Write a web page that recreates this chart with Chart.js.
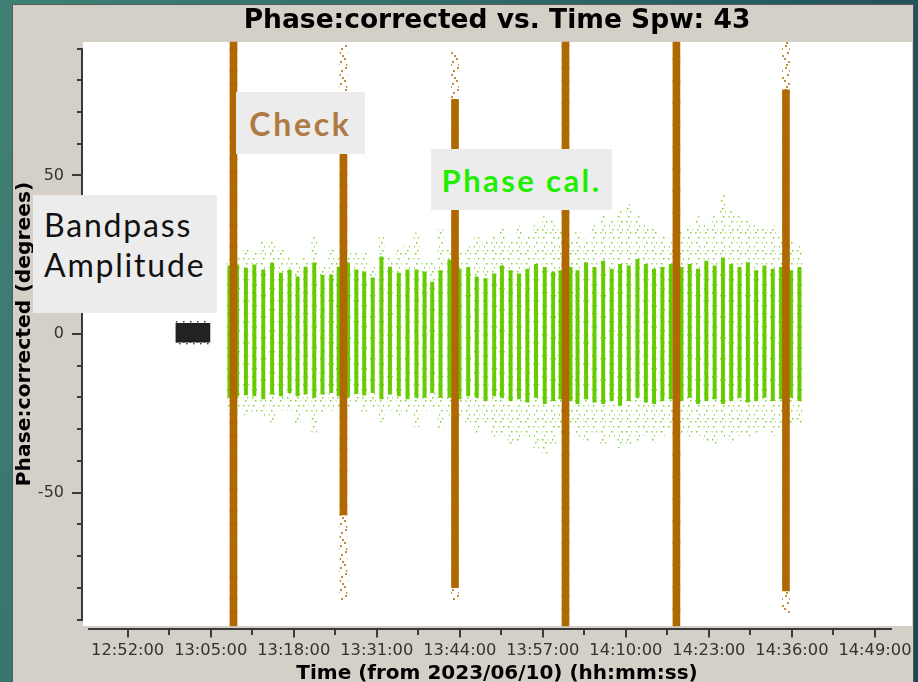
<!DOCTYPE html>
<html>
<head>
<meta charset="utf-8">
<title>Phase:corrected vs. Time Spw: 43</title>
<script src="https://cdn.jsdelivr.net/npm/chart.js@4.4.1/dist/chart.umd.min.js"></script>
<style>
  html, body { margin: 0; padding: 0; }
  body {
    width: 918px; height: 682px; overflow: hidden; position: relative;
    background: linear-gradient(110deg, #408175 0%, #2f6d6a 40%, #1a4553 100%);
  }
  #panel {
    position: absolute; left: 12px; top: 4px; width: 900px; height: 678px;
    background: #d4d0c8; border: 1px solid #55595a; border-bottom: none;
  }
  #plot { position: absolute; left: 0; top: 0; }
  .note { position: absolute; background: #ececec; box-sizing: border-box; white-space: nowrap; }
  #noteCheck {
    left: 236px; top: 92px; width: 129px; height: 62px;
    display: flex; align-items: center; justify-content: center;
    color: #b07a44; font: 700 32px Lato, "DejaVu Sans", sans-serif; letter-spacing: 2.7px;
  }
  #notePhase {
    left: 431px; top: 149px; width: 181px; height: 61px;
    display: flex; align-items: center; justify-content: center;
    color: #1fee00; font: 700 31px Lato, "DejaVu Sans", sans-serif; letter-spacing: 2.4px;
  }
  #noteBandpass {
    left: 33px; top: 195px; width: 184px; height: 118px;
    padding: 10px 0 0 11px;
    color: #111; font: 400 32px Lato, "DejaVu Sans", sans-serif; letter-spacing: 1.8px; line-height: 40px;
  }
</style>
</head>
<body>
<div id="panel"></div>
<canvas id="plot" width="918" height="682"></canvas>
<div class="note" id="noteCheck">Check</div>
<div class="note" id="notePhase">Phase cal.</div>
<div class="note" id="noteBandpass">Bandpass<br>Amplitude</div>

<script>
// ---------- axis setup ----------
const timeRange   = ['12:44:51', '14:54:48'];
const phaseRange  = [-90, 90];
const xTickLabels = ['12:52:00', '13:05:00', '13:18:00', '13:31:00', '13:44:00',
                     '13:57:00', '14:10:00', '14:23:00', '14:36:00', '14:49:00'];
const xMinorTicks = ['12:58:30', '13:11:30', '13:24:30', '13:37:30', '13:50:30',
                     '14:03:30', '14:16:30', '14:29:30', '14:42:30'];

// ---------- bandpass scan (one long scan near zero phase) ----------
const bandpassTimes  = ['13:02:13'];
const bandpassCoreLo = [-2.6];
const bandpassCoreHi = [3.4];
const bandpassTailLo = [-3.3];
const bandpassTailHi = [4.0];

// ---------- check source scans ----------
const checkTimes  = ['13:08:34', '13:25:47', '13:43:15', '14:00:33', '14:17:55', '14:35:04'];
const checkCoreLo = [-92, -57, -80, -92, -92, -81];
const checkCoreHi = [ 92,  62,  74,  92,  92,  77];
const checkTailLo = [-92, -84, -84, -92, -92, -88];
const checkTailHi = [ 92,  91,  89,  92,  92,  92];

// ---------- phase calibrator scans ----------
const phaseTimes = [
  '13:07:56',
  '13:09:07','13:10:31','13:11:50','13:13:14','13:14:37','13:16:00','13:17:21','13:18:36','13:19:51','13:21:13','13:22:30','13:23:52','13:25:02',
  '13:26:30','13:27:48','13:29:02','13:30:22','13:31:44','13:33:04','13:34:27','13:35:49','13:37:13','13:38:29','13:39:41','13:40:59','13:42:23',
  '13:43:57','13:45:19','13:46:39','13:48:02','13:49:23','13:50:36','13:51:57','13:53:16','13:54:35','13:55:56','13:57:18','13:58:37','13:59:47',
  '14:01:20','14:02:26','14:03:46','14:05:05','14:06:27','14:07:47','14:09:06','14:10:27','14:11:49','14:13:08','14:14:25','14:15:43','14:17:02',
  '14:18:42','14:20:00','14:21:18','14:22:36','14:23:54','14:25:12','14:26:30','14:27:48','14:29:06','14:30:24','14:31:42','14:33:00','14:34:18',
  '14:35:51','14:37:11'
];
const phaseCoreHi = [
  21.5,
  21.8, 20.8, 21.8, 20.2, 22.4, 19.2, 20.2, 18.0, 21.1, 22.4, 18.5, 18.6, 21.1,
  22.4, 20.2, 19.6, 17.7, 24.3, 21.1, 19.2, 20.2, 20.2, 19.6, 16.4, 20.0, 23.3,
  20.5, 21.0, 18.0, 17.5, 19.0, 21.5, 20.0, 19.0, 20.5, 22.0, 21.0, 19.5, 20.0,
  21.0, 20.0, 22.5, 21.0, 23.0, 20.5, 22.0, 21.5, 23.5, 22.0, 20.5, 21.0, 22.0,
  21.0, 22.0, 20.5, 23.0, 21.5, 24.0, 22.0, 21.0, 22.5, 20.0, 21.5, 20.5, 21.0,
  20.0, 21.0
];
const phaseCoreLo = [
  -20.0,
  -19.6, -19.2, -19.5, -20.5, -19.0, -19.5, -18.5, -19.5, -19.0, -20.0, -19.0, -18.5, -19.5,
  -19.8, -18.8, -19.3, -18.5, -20.5, -19.0, -19.5, -20.5, -20.0, -20.0, -18.5, -20.0, -20.0,
  -20.5, -19.5, -20.0, -21.0, -19.5, -20.0, -21.0, -20.5, -21.5, -20.0, -22.0, -21.0, -20.5,
  -21.0, -22.0, -20.5, -21.5, -22.0, -21.0, -22.5, -21.0, -20.0, -21.5, -22.0, -21.0, -20.5,
  -21.0, -20.0, -22.0, -21.0, -20.5, -22.0, -21.0, -20.0, -21.5, -21.0, -20.0, -21.0, -20.5,
  -20.0, -21.0
];
const phaseTailHi = [
  23.0,
  24.0, 26.5, 26.0, 29.7, 29.7, 27.1, 24.0, 22.8, 24.4, 31.5, 21.5, 26.5, 25.0,
  25.5, 25.6, 25.6, 21.2, 31.2, 24.0, 26.5, 28.0, 31.9, 23.0, 23.3, 32.8, 26.5,
  26.0, 27.5, 31.0, 29.0, 30.5, 33.0, 29.0, 34.0, 31.0, 35.0, 37.0, 36.0, 33.0,
  30.0, 32.0, 30.0, 35.0, 38.0, 36.0, 39.0, 41.0, 37.0, 35.0, 33.0, 31.0, 30.0,
  32.0, 34.0, 37.0, 35.0, 38.0, 44.0, 39.0, 37.0, 36.0, 35.0, 33.0, 34.0, 31.0,
  30.0, 28.0
];
const phaseTailLo = [
  -24.0,
  -25.0, -25.6, -24.6, -26.0, -27.8, -24.0, -24.0, -28.7, -24.6, -31.0, -24.6, -24.0, -23.0,
  -24.5, -22.0, -25.0, -23.3, -27.8, -24.0, -25.6, -25.0, -29.3, -24.0, -23.0, -30.3, -26.2,
  -27.0, -28.0, -31.0, -29.0, -33.0, -32.0, -35.0, -34.0, -33.0, -36.0, -38.0, -35.0, -31.0,
  -30.0, -33.0, -34.0, -31.0, -35.0, -33.0, -36.0, -35.0, -34.0, -32.0, -34.0, -32.0, -30.0,
  -31.0, -33.0, -32.0, -34.0, -35.0, -33.0, -34.0, -32.0, -33.0, -31.0, -30.0, -32.0, -30.0,
  -29.0, -28.0
];

// ---------- helpers ----------
function toSec(t) {
  const [h, m, s] = t.split(':').map(Number);
  return h * 3600 + m * 60 + s;
}
function scans(times, lo, hi) {
  return times.map((t, i) => ({ x: toSec(t), y: [lo[i], hi[i]] }));
}
const majorSecs = xTickLabels.map(toSec);
const tickSecs = majorSecs.concat(xMinorTicks.map(toSec)).sort((a, b) => a - b);
const isMajorX = v => majorSecs.includes(v);

// sparse-dot fill used for the scattered outer points of each scan
function dotPattern(w, h, dots, color, size) {
  const c = document.createElement('canvas');
  c.width = w; c.height = h;
  const g = c.getContext('2d');
  g.fillStyle = color;
  dots.forEach(([x, y]) => g.fillRect(x, y, size, size));
  return g.createPattern(c, 'repeat');
}
const greenDots  = dotPattern(5, 21, [[0, 1], [3, 6], [1, 11], [4, 15], [2, 19]], '#7ad430', 1.5);
const orangeDots = dotPattern(8, 22, [[1, 1], [5, 4], [3, 8], [6, 11], [0, 14], [4, 17], [2, 20]], '#c48a3a', 2);
const darkDots   = dotPattern(7, 5, [[1, 1], [4, 3]], '#3a3a3a', 1.5);

const FONT = 'DejaVu Sans';
const AXIS_COLOR = '#3a3a3a';

// white plotting surface and the detached time-axis line
const plotFrame = {
  id: 'plotFrame',
  beforeDraw(chart) {
    const { ctx, chartArea: a } = chart;
    ctx.save();
    ctx.fillStyle = '#ffffff';
    ctx.fillRect(a.left + 1, a.top - 6.5, a.right - a.left - 1, a.bottom - a.top + 13);
    ctx.restore();
  },
  afterDraw(chart) {
    const { ctx, chartArea: a } = chart;
    ctx.save();
    ctx.strokeStyle = AXIS_COLOR;
    ctx.lineWidth = 2;
    ctx.beginPath();
    ctx.moveTo(a.left + 6, a.bottom + 9.5);
    ctx.lineTo(a.right - 20, a.bottom + 9.5);
    ctx.stroke();
    ctx.restore();
  }
};

new Chart(document.getElementById('plot'), {
  type: 'bar',
  data: {
    datasets: [
      { label: 'Bandpass', data: scans(bandpassTimes, bandpassCoreLo, bandpassCoreHi),
        backgroundColor: '#222222', barThickness: 34, order: 0 },
      { label: 'Bandpass scatter', data: scans(bandpassTimes, bandpassTailLo, bandpassTailHi),
        backgroundColor: darkDots, barThickness: 33, order: 1 },
      { label: 'Check', data: scans(checkTimes, checkCoreLo, checkCoreHi),
        backgroundColor: '#b06800', barThickness: 7, order: 2, clip: 8 },
      { label: 'Check scatter', data: scans(checkTimes, checkTailLo, checkTailHi),
        backgroundColor: orangeDots, barThickness: 7, order: 3, clip: 8 },
      { label: 'Phase cal', data: scans(phaseTimes, phaseCoreLo, phaseCoreHi),
        backgroundColor: '#66cc00', barThickness: 3.3, order: 4 },
      { label: 'Phase cal scatter', data: scans(phaseTimes, phaseTailLo, phaseTailHi),
        backgroundColor: greenDots, barThickness: 5, order: 5 }
    ]
  },
  options: {
    responsive: false,
    animation: false,
    events: [],
    devicePixelRatio: 1,
    datasets: { bar: { grouped: false, borderWidth: 0 } },
    layout: { padding: { left: 13, right: 6, top: 5, bottom: 0 } },
    plugins: {
      legend: { display: false },
      tooltip: { enabled: false },
      title: {
        display: true,
        text: 'Phase:corrected vs. Time Spw: 43',
        fullSize: false,
        color: '#000000',
        font: { family: FONT, size: 26.5, weight: 'bold' },
        padding: { top: 0, bottom: 11.7 }
      }
    },
    scales: {
      x: {
        type: 'linear',
        min: toSec(timeRange[0]),
        max: toSec(timeRange[1]),
        offset: false,
        bounds: 'data',
        afterFit: s => { s.height = 62.5; },
        afterBuildTicks: s => { s.ticks = tickSecs.map(v => ({ value: v })); },
        border: { display: false },
        grid: {
          offset: false,
          drawOnChartArea: false,
          drawTicks: true,
          tickLength: 18,
          lineWidth: 2,
          tickWidth: 2,
          tickColor: AXIS_COLOR,
          tickBorderDash: c => (c.tick && isMajorX(c.tick.value)) ? [9, 9] : [6, 9],
          tickBorderDashOffset: c => (c.tick && isMajorX(c.tick.value)) ? 9 : 6
        },
        ticks: {
          autoSkip: false,
          maxRotation: 0,
          padding: 3,
          color: '#333333',
          font: { family: FONT, size: 16.3 },
          callback: v => {
            const i = majorSecs.indexOf(v);
            return i >= 0 ? xTickLabels[i] : '';
          }
        },
        title: {
          display: true,
          text: 'Time (from 2023/06/10) (hh:mm:ss)',
          color: '#000000',
          font: { family: FONT, size: 20, weight: 'bold' },
          padding: { top: 0, bottom: -4 }
        }
      },
      y: {
        type: 'linear',
        min: phaseRange[0],
        max: phaseRange[1],
        afterFit: s => { s.width = 69; },
        border: { display: true, color: AXIS_COLOR, width: 2 },
        grid: {
          drawOnChartArea: false,
          drawTicks: true,
          tickLength: 10,
          lineWidth: 2,
          tickWidth: 2,
          tickColor: AXIS_COLOR,
          tickBorderDash: c => (c.tick && c.tick.value % 50 === 0) ? [] : [5, 5],
          tickBorderDashOffset: c => (c.tick && c.tick.value % 50 === 0) ? 0 : 5
        },
        ticks: {
          stepSize: 10,
          autoSkip: false,
          padding: 8,
          color: '#333333',
          font: { family: FONT, size: 16 },
          callback: v => (v % 50 === 0 ? String(v) : '')
        },
        title: {
          display: true,
          text: 'Phase:corrected (degrees)',
          color: '#000000',
          font: { family: FONT, size: 20.3, weight: 'bold' },
          padding: { top: 0, bottom: 0 }
        }
      }
    }
  },
  plugins: [plotFrame]
});
</script>
</body>
</html>
